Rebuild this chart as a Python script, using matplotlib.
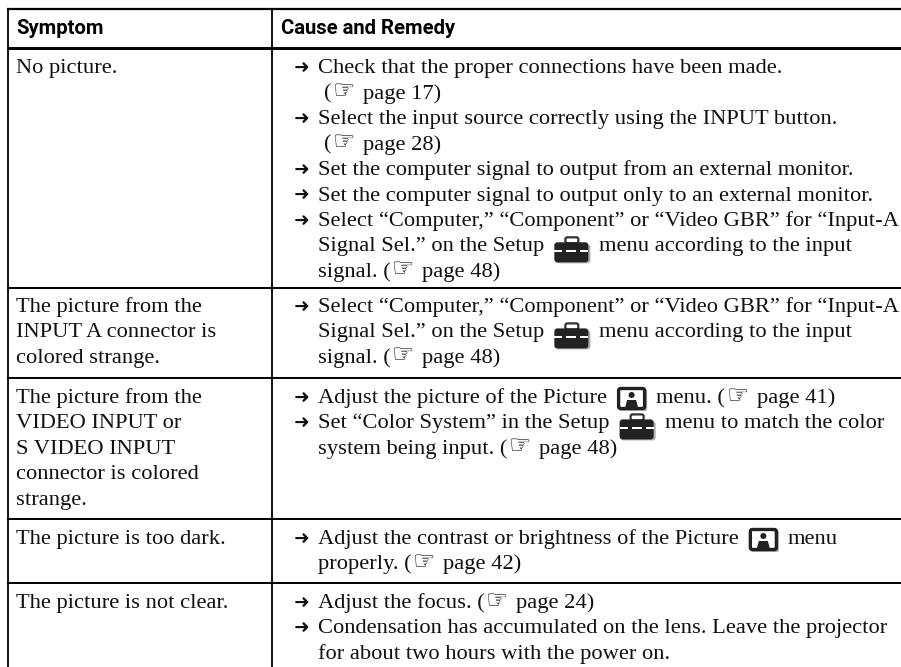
import matplotlib
matplotlib.use("Agg")
import matplotlib.pyplot as plt
from matplotlib.patches import FancyBboxPatch, Rectangle, Polygon, Circle

headers = ["Symptom", "Cause and Remedy"]

# row text, ">" starts a line with the arrow, [hand] [tool] [pic] are the inline icons
symptoms = [
    ["No picture."],
    ["The picture from the", "INPUT A connector is", "colored strange."],
    ["The picture from the", "VIDEO INPUT or", "S VIDEO INPUT", "connector is colored", "strange."],
    ["The picture is too dark."],
    ["The picture is not clear."],
]
remedies = [
    [">Check that the proper connections have been made.",
     " ([hand] page 17)",
     ">Select the input source correctly using the INPUT button.",
     " ([hand] page 28)",
     ">Set the computer signal to output from an external monitor.",
     ">Set the computer signal to output only to an external monitor.",
     ">Select “Computer,” “Component” or “Video GBR” for “Input-A",
     "Signal Sel.” on the Setup [tool] menu according to the input",
     "signal. ([hand] page 48)"],
    [">Select “Computer,” “Component” or “Video GBR” for “Input-A",
     "Signal Sel.” on the Setup [tool] menu according to the input",
     "signal. ([hand] page 48)"],
    [">Adjust the picture of the Picture [pic] menu. ([hand] page 41)",
     ">Set “Color System” in the Setup [tool] menu to match the color",
     "system being input. ([hand] page 48)"],
    [">Adjust the contrast or brightness of the Picture [pic] menu",
     "properly. ([hand] page 42)"],
    [">Adjust the focus. ([hand] page 24)",
     ">Condensation has accumulated on the lens. Leave the projector",
     "for about two hours with the power on."],
]

row_lines = [288, 378, 519, 582.5]
first_base = [73.5, 312, 403, 544, 608]
line_step = 25.4
ink = "#111111"
serif = "Liberation Serif"
fs = 16.2
space = 5.6

fig = plt.figure(figsize=(9.01, 6.67), dpi=100)
ax = fig.add_axes([0, 0, 1, 1])
ax.set_xlim(0, 901)
ax.set_ylim(667, 0)
ax.axis("off")
rend = fig.canvas.get_renderer()


def toolbox(x, base):
    top = base - 15
    ax.add_patch(FancyBboxPatch((x + 1, top + 8), 35, 19, boxstyle="round,pad=0,rounding_size=3",
                                fc="#aaaaaa", ec="none"))
    ax.add_patch(FancyBboxPatch((x + 11, top + 1), 13, 6, boxstyle="round,pad=0,rounding_size=2",
                                fc="none", ec="#333333", lw=1.6))
    ax.add_patch(FancyBboxPatch((x, top + 6), 34, 20, boxstyle="round,pad=0,rounding_size=3",
                                fc="#222222", ec="none"))
    ax.add_patch(Rectangle((x, top + 13.5), 34, 2.5, fc="white", ec="none"))
    ax.add_patch(Rectangle((x + 8, top + 12.5), 4, 4.5, fc="#222222", ec="none"))
    ax.add_patch(Rectangle((x + 22, top + 12.5), 4, 4.5, fc="#222222", ec="none"))


def picture(x, base):
    top = base - 16
    ax.add_patch(FancyBboxPatch((x + 2, top + 2), 28, 22, boxstyle="round,pad=0,rounding_size=2",
                                fc="#aaaaaa", ec="none"))
    ax.add_patch(FancyBboxPatch((x + 1.5, top + 1.5), 26, 20, boxstyle="round,pad=0,rounding_size=2",
                                fc="white", ec="#222222", lw=2.4))
    ax.add_patch(Circle((x + 14.5, top + 8), 3, fc="#222222", ec="none"))
    ax.add_patch(Polygon([(x + 8, top + 20.5), (x + 10, top + 13), (x + 19, top + 13), (x + 21, top + 20.5)],
                         fc="#222222", ec="none"))


def put(x, base, s, **kw):
    t = ax.text(x, base, s, va="baseline", ha="left", color=ink, **kw)
    return t.get_window_extent(rend).width


def draw_line(x, base, line):
    # walk along the line, text pieces are measured so the icons land after them
    parts = line.replace("[", "|[").replace("]", "]|").split("|")
    for p in parts:
        if p == "":
            continue
        if p == "[hand]":
            put(x + 1.5, base, "\u261e", family="DejaVu Sans", fontsize=18, fontweight="bold")
            x += 26
        elif p == "[tool]":
            toolbox(x + 4.5, base)
            x += 44
        elif p == "[pic]":
            picture(x + 4.5, base)
            x += 38
        else:
            if p[0] == " ":
                x += space
            x += put(x, base, p.strip(), family=serif, fontsize=fs)
            if p[-1] == " ":
                x += space


for name, x in zip(headers, [16, 281]):
    ax.text(x, 33.5, name, va="baseline", ha="left", color="black", fontweight="bold", fontsize=14.6,
            family="Roboto")

for i, row in enumerate(symptoms):
    for j, line in enumerate(row):
        draw_line(16, first_base[i] + j * line_step, line)

for i, row in enumerate(remedies):
    for j, line in enumerate(row):
        base = first_base[i] + j * line_step
        if line[0] == ">":
            put(294, base, "\u279c", family="DejaVu Sans", fontsize=13.5)
            line = line[1:]
        draw_line(318, base, line)

# rules of the table
ax.plot([7, 901], [9, 9], color="black", lw=1.6, solid_capstyle="butt")
ax.plot([7, 901], [47.5, 47.5], color="black", lw=2.1, solid_capstyle="butt")
for y in row_lines:
    ax.plot([7, 901], [y, y], color="black", lw=1.4, solid_capstyle="butt")
ax.plot([8, 8], [8, 667], color="black", lw=1.3, solid_capstyle="butt")
ax.plot([272, 272], [8, 667], color="black", lw=1.3, solid_capstyle="butt")

fig.savefig("out.png", dpi=100)
